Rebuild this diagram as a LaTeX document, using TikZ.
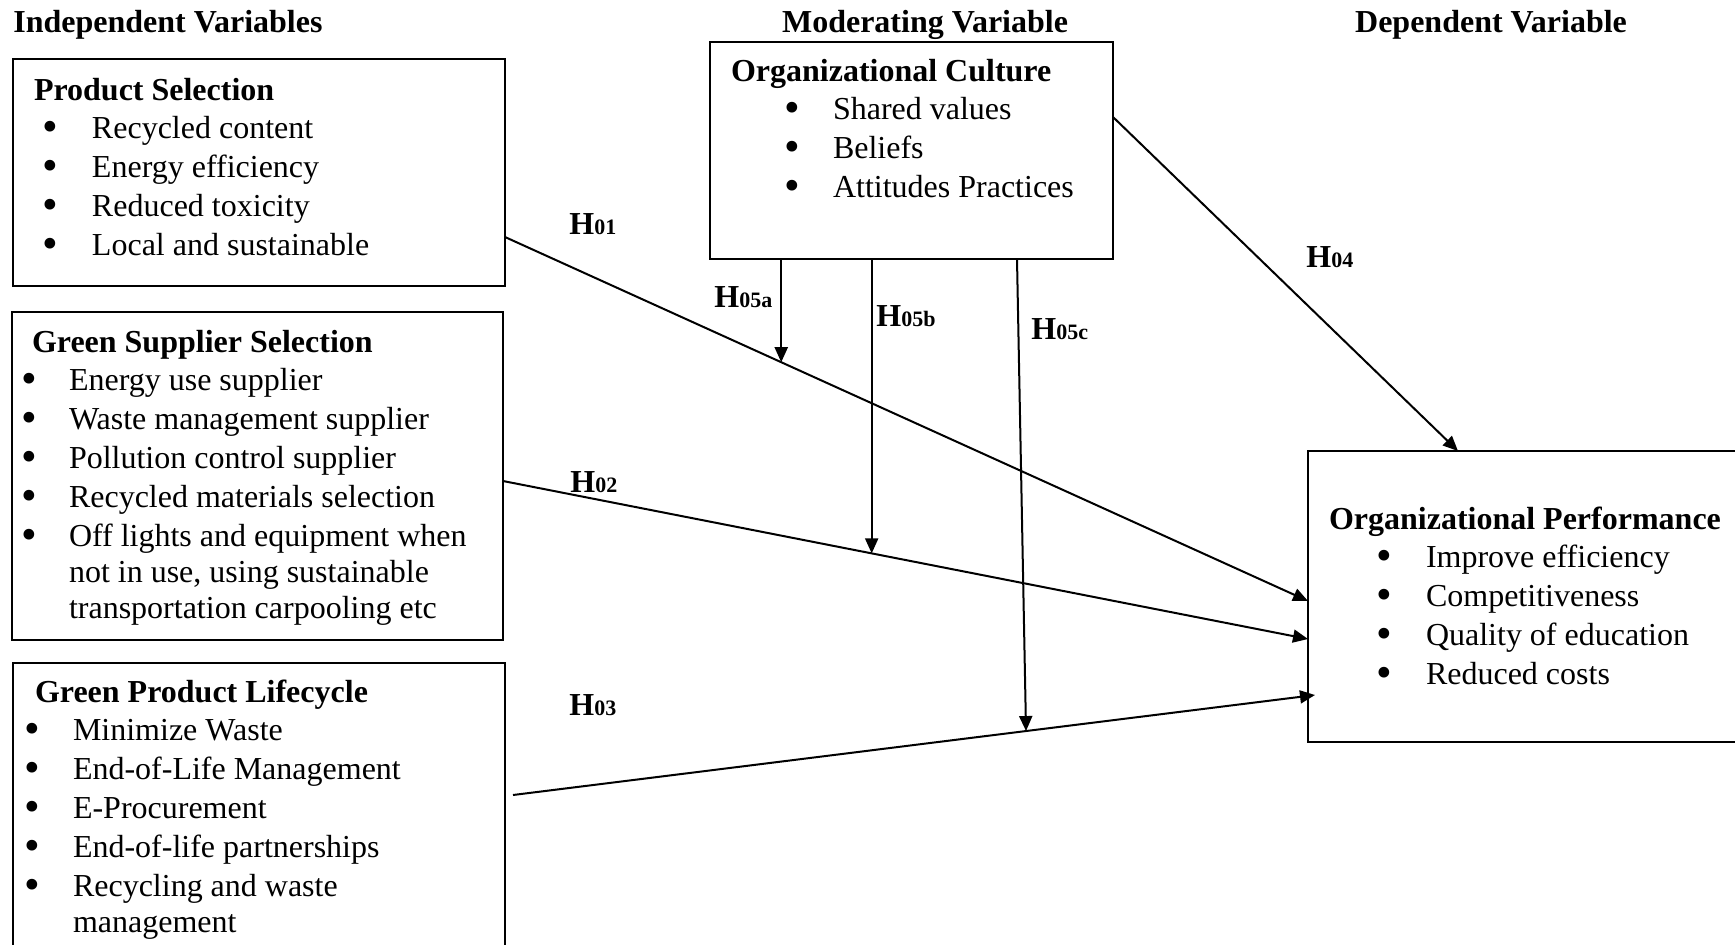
\documentclass[tikz,border=0pt]{standalone}
\usepackage{fontspec}
\usepackage{graphicx}
\setmainfont{Liberation Serif}
\usetikzlibrary{arrows.meta}

\newcommand{\bigbullet}{\raisebox{-1.8pt}{\scalebox{1.4}{\textbullet}}}
\newcommand{\bitem}[3]{\makebox[#2][l]{\hspace*{#1}\makebox[0pt][c]{\bigbullet}}#3}
\newcommand{\hyp}[1]{\textbf{H}{\fontsize{11pt}{11pt}\selectfont\textbf{#1}}}

\begin{document}
\begin{tikzpicture}[x=0.5pt, y=-0.5pt, font=\fontsize{16pt}{19.5pt}\selectfont]
\tikzstyle{box}=[rectangle, draw=black, line width=0.9pt, inner sep=0pt, outer sep=0pt, anchor=north west]
\tikzstyle{heading}=[font=\fontsize{16pt}{19.5pt}\selectfont\bfseries, inner sep=0pt, anchor=base]
\tikzstyle{hlabel}=[inner sep=0pt, anchor=base west]
\tikzstyle{harrow}=[-{Triangle[length=7.5pt, width=6.5pt]}, line width=1pt]

\useasboundingbox (0,0) rectangle (1735,944);

% Column headings
\node[heading, anchor=base west] (indep) at (13,32) {Independent Variables};
\node[heading] (moder) at (925,32) {Moderating Variable};
\node[heading] (depend) at (1491,32) {Dependent Variable};

% Independent variables
\node[box] (ps) at (13,59) {\parbox[c][113.5pt][t]{246pt}{\raggedright
    \rule{0pt}{20.5pt}\hspace*{10.5pt}\textbf{Product Selection}\\[-0.5pt]
    \bitem{18.5pt}{39.5pt}{Recycled content}\\
    \bitem{18.5pt}{39.5pt}{Energy efficiency}\\
    \bitem{18.5pt}{39.5pt}{Reduced toxicity}\\
    \bitem{18.5pt}{39.5pt}{Local and sustainable}}};

\node[box] (gs) at (12,312) {\parbox[c][164pt][t]{245.5pt}{\raggedright
    \rule{0pt}{20pt}\hspace*{10pt}\textbf{Green Supplier Selection}\\[-0.5pt]
    \bitem{8.5pt}{28.5pt}{Energy use supplier}\\
    \bitem{8.5pt}{28.5pt}{Waste management supplier}\\
    \bitem{8.5pt}{28.5pt}{Pollution control supplier}\\
    \bitem{8.5pt}{28.5pt}{Recycled materials selection}\\
    \bitem{8.5pt}{28.5pt}{Off lights and equipment when}\\[-1.5pt]
    \hspace*{28.5pt}not in use, using sustainable\\[-1.5pt]
    \hspace*{28.5pt}transportation carpooling etc}};

\node[box] (gl) at (13,663) {\parbox[c][150.5pt][t]{246pt}{\raggedright
    \rule{0pt}{19.5pt}\hspace*{11pt}\textbf{Green Product Lifecycle}\\[-0.5pt]
    \bitem{9.5pt}{30pt}{Minimize Waste}\\
    \bitem{9.5pt}{30pt}{End-of-Life Management}\\
    \bitem{9.5pt}{30pt}{E-Procurement}\\
    \bitem{9.5pt}{30pt}{End-of-life partnerships}\\
    \bitem{9.5pt}{30pt}{Recycling and waste}\\[-1.5pt]
    \hspace*{30pt}management}};

% Moderating and dependent variables
\node[box] (oc) at (710,42) {\parbox[c][108.5pt][t]{201.5pt}{\raggedright
    \rule{0pt}{19.5pt}\hspace*{10.5pt}\textbf{Organizational Culture}\\[-0.5pt]
    \bitem{41pt}{61.5pt}{Shared values}\\
    \bitem{41pt}{61.5pt}{Beliefs}\\
    \bitem{41pt}{61.5pt}{Attitudes Practices}}};

\node[box] (op) at (1308,451) {\parbox[c][145.5pt][t]{226pt}{\raggedright
    \rule{0pt}{39pt}\hspace*{10.5pt}\textbf{Organizational Performance}\\[-0.5pt]
    \bitem{38pt}{59pt}{Improve efficiency}\\
    \bitem{38pt}{59pt}{Competitiveness}\\
    \bitem{38pt}{59pt}{Quality of education}\\
    \bitem{38pt}{59pt}{Reduced costs}}};

% Hypotheses
\draw[harrow] ([yshift=-32.25pt]ps.east) -- coordinate[pos=0.344] (m1) ([yshift=-2.25pt]op.west);
\draw[harrow] ([yshift=-2.5pt]gs.east) -- coordinate[pos=0.458] (m2) ([yshift=-21.25pt]op.west);
\draw[harrow] ([xshift=4pt, yshift=9.25pt]gl.east) -- coordinate[pos=0.6397] (m3) ([xshift=3.5pt, yshift=-49.25pt]op.west);
\draw[harrow] ([yshift=16.75pt]oc.east) -- ([xshift=-38pt]op.north);

\draw[harrow] (oc.south -| m1) -- (m1);
\draw[harrow] (oc.south -| m2) -- (m2);
\draw[harrow] ([xshift=52.75pt]oc.south) -- (m3);

\foreach \lab/\x/\y in {01/569/234, 02/570/492, 03/569/715, 04/1306/267, 05a/714/307, 05b/876/326, 05c/1031/339}
    \node[hlabel] (h\lab) at (\x,\y) {\hyp{\lab}};

\end{tikzpicture}
\end{document}
